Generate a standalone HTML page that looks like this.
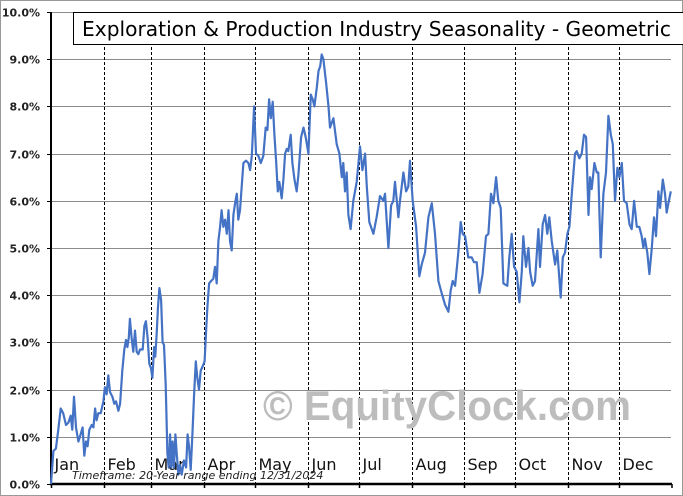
<!DOCTYPE html>
<html><head><meta charset="utf-8"><style>
html,body{margin:0;padding:0;background:#fff}
svg{display:block}
</style></head><body>
<svg id="chart" width="683" height="496" viewBox="0 0 683 496" xmlns="http://www.w3.org/2000/svg" font-family="'DejaVu Sans','Liberation Sans',sans-serif">
<rect x="0.5" y="0.5" width="682" height="495" fill="#fff" stroke="#999"/>
<g id="grid"></g>
<g id="months"></g>
<text x="263" y="420" font-size="42" font-weight="bold" fill="#bdbdbd" font-family="'Liberation Sans',sans-serif" textLength="368" lengthAdjust="spacingAndGlyphs">© EquityClock.com</text>
<g id="yaxis"></g>
<g id="xaxis"></g>
<path id="series" fill="none" stroke="#4472c4" stroke-width="2.2" stroke-linejoin="round"/>
<text x="72" y="479" font-size="11" font-style="italic" fill="#222">Timeframe: 20-Year range ending 12/31/2024</text>
<g>
<rect x="73.5" y="12.5" width="620" height="32" fill="#fff" stroke="#000"/>
<text x="82" y="36" font-size="20" fill="#000" textLength="589" lengthAdjust="spacingAndGlyphs">Exploration &amp; Production Industry Seasonality - Geometric</text>
</g>
</svg>
<script>
const yTicks = [0,1,2,3,4,5,6,7,8,9,10];
const monthLabels = ["Jan","Feb","Mar","Apr","May","Jun","Jul","Aug","Sep","Oct","Nov","Dec"];
const monthStarts = [0,31,59,90,120,151,181,212,243,273,304,334];
const days = [0,1.4,2.9,4.3,5.7,7.2,8.8,10.2,11.6,12.5,13.5,14.7,16.1,17.4,18.6,19.6,20.6,21.5,22.5,23.9,24.9,25.9,26.8,27.8,29.2,30.8,31.7,32.7,33.7,34.7,36.1,37.2,38.2,39.6,40.6,41.9,43.1,44.1,44.9,45.7,46.4,47.4,48.4,49.4,50.4,51.3,52.3,53.9,54.9,55.8,56.8,57.8,58.8,59.6,60.6,61.3,62.1,62.9,63.7,64.7,65.6,66.4,67.4,68.4,69.2,70,70.7,71.5,72.3,73.1,73.9,74.9,75.8,76.8,78.2,79.4,80.3,81.1,82.1,83.1,84.1,85.1,86,87,88,89.2,90.3,91.1,91.9,92.9,94.1,95.4,96.4,97.4,98.4,99.4,100.3,101.3,102.3,103.3,104.3,105.2,106.2,107.2,108.2,109.2,110.1,111.1,112.1,113.1,114.6,116,117,118,119.4,120.5,121.9,123.3,124.8,126.2,127.2,128.2,129.2,130.3,131.3,132.3,133.3,134.2,135.6,136.6,137.6,138.6,139.5,140.9,141.9,143.1,144.4,145.4,147,148.4,149.7,151.3,152.7,153.8,154.8,156.2,157.2,158.2,159.1,160.1,161.7,163.1,164,
166,167.9,169.5,170.9,171.8,172.8,173.8,174.8,176.1,177.7,179.7,181.6,183,184.6,185.6,187.1,189.5,191.4,193.4,195.4,196.3,198.3,199.9,201.2,202.2,204.2,205.1,207.1,208.7,210,211,212.6,214.6,216.5,217.9,219.8,221.8,223.8,225.7,227.7,229.6,231.6,233.6,234.9,236.1,237.5,239.4,240.8,242,243.4,245.3,247.3,248.6,250.2,251.8,253.7,255.7,257.1,258.6,260,261.6,262.9,264.3,265.9,268.2,269.4,270.8,272.2,273.7,275.3,276.7,277.6,279.2,280.6,281.6,283.1,284.5,286.5,287.4,289,290.4,291.7,292.9,294.3,296.3,297.6,299.6,300.8,302.1,303.5,304.7,306.1,308,309,310.6,311.9,313.3,314.5,315.9,316.8,317.8,319.4,320.8,321.7,323.1,324.7,326.2,327.6,329,330.2,331.5,332.9,334.1,335.5,336.8,338.4,340,341.3,342.7,344.3,345.8,347.2,348.2,349.1,350.5,351.7,353.1,354.4,355.6,357,358,359.6,360.9,361.9,362.9,364.3];
const values = [0,0.7,0.75,1.15,1.6,1.5,1.25,1.3,1.45,1.15,1.85,1.2,0.9,1.05,1.2,0.6,0.9,0.8,1.15,1.25,1.2,1.6,1.35,1.5,1.5,1.75,2.05,1.9,2.3,1.95,1.85,1.7,1.75,1.55,1.7,2.4,2.85,3.05,2.9,3.1,3.5,3.1,2.8,3.25,2.8,2.75,2.85,2.85,3.35,3.45,3.1,2.55,2.45,2.25,2.9,2.7,3.2,3.75,4.15,3.9,3.0,2.95,2.1,0.65,0.35,1.05,0.35,0.9,0.35,1.05,0.65,0.2,0.4,0.2,0.5,0.35,1.05,0.8,0.3,1.05,1.9,2.6,2.25,2.0,2.4,2.5,2.6,3.2,3.75,4.25,4.3,4.35,4.6,4.25,5.15,5.45,5.8,5.45,5.6,5.3,5.8,5.15,4.95,5.7,5.95,6.15,5.6,5.8,6.3,6.8,6.85,6.8,6.65,6.95,8.0,7.0,6.95,6.8,6.95,7.55,7.5,8.15,7.75,8.1,7.4,6.85,6.2,6.4,6.05,6.45,7.0,7.1,7.05,7.4,6.8,6.45,6.2,6.55,7.35,7.55,7.35,7.0,8.25,8.15,8.0,8.4,8.75,8.85,9.1,9.0,8.5,8.0,7.55,
7.75,7.2,7.0,6.5,6.8,6.2,6.6,5.7,5.4,6.0,6.4,7.15,6.65,7.0,6.3,5.55,5.3,5.65,6.1,6.0,6.15,5.0,5.9,6.0,6.4,5.65,6.0,6.6,6.2,6.3,6.85,6.0,5.45,4.4,4.65,4.9,5.65,5.95,5.3,4.3,4.05,3.8,3.65,4.1,4.3,4.2,4.9,5.55,5.3,5.25,4.8,4.8,4.7,4.7,4.05,4.45,5.25,5.3,6.15,5.95,6.5,6.0,5.85,4.25,4.2,4.8,5.3,4.6,4.5,3.85,4.5,5.25,4.6,5.0,4.5,4.2,4.3,5.4,4.6,5.5,5.7,5.3,5.65,5.15,4.65,4.95,3.95,4.8,4.9,5.3,5.45,6.15,7.0,7.05,6.9,7.0,7.4,7.35,5.7,6.5,6.25,6.8,6.6,6.6,4.8,6.15,6.6,7.8,7.4,7.2,6.0,6.7,6.5,6.8,6.0,5.95,5.5,5.4,6.0,5.45,5.45,5.25,5.0,5.2,4.9,4.45,5.0,5.65,5.25,6.2,5.85,6.45,6.15,5.75,5.95,6.2];

const X0=51, X1=672, Y0=484, Y1=12, YMAX=10;
const xs = d => X0 + d/365*(X1-X0);
const ys = v => Y0 - v/YMAX*(Y0-Y1);
const NS="http://www.w3.org/2000/svg";
function mk(tag, attrs, parent){const e=document.createElementNS(NS,tag);for(const k in attrs)e.setAttribute(k,attrs[k]);parent.appendChild(e);return e;}

const grid=document.getElementById('grid'), yaxis=document.getElementById('yaxis');
yTicks.forEach(t=>{
  const y=Math.round(ys(t))+0.5;
  if(t>0){const l=mk('line',{x1:X0,x2:X1-1,y1:y,y2:y,stroke:'#8c8c8c','stroke-width':1},grid);
  
  }
  const tl=mk('line',{x1:X0-4,x2:X0,y1:y,y2:y,stroke:'#000'},yaxis);
  
  
  const tx=mk('text',{x:X0-11,y:y+4,'text-anchor':'end','font-size':11,'font-weight':'bold',fill:'#222'},yaxis);
  tx.textContent=t.toFixed(1)+'%';
  
  
});
mk('line',{x1:X0,x2:X0,y1:Y1,y2:Y0+1,stroke:'#000','stroke-width':2},yaxis);

const months=document.getElementById('months'), xaxis=document.getElementById('xaxis');
monthStarts.forEach((d,i)=>{
  const x=Math.round(xs(d))+0.5;
  if(i>0){const l=mk('line',{x1:x,x2:x,y1:Y1,y2:Y0,stroke:'#000','stroke-dasharray':'3,2','stroke-width':1},months);
  
  }
  const tk=mk('line',{x1:x,x2:x,y1:Y0,y2:Y0+4,stroke:'#000','stroke-width':1.5},xaxis);
  
  
  const tx=mk('text',{x:x+3,y:470,'font-size':16,fill:'#111'},xaxis);
  tx.textContent=monthLabels[i];
  
  
});
const tkEnd=mk('line',{x1:X1,x2:X1,y1:Y0,y2:Y0+4,stroke:'#000','stroke-width':1.5},xaxis);


mk('line',{x1:X0-1,x2:X1,y1:Y0,y2:Y0,stroke:'#000','stroke-width':2.5},xaxis);

document.getElementById('series').setAttribute('d',
  days.map((d,i)=>(i?'L':'M')+xs(d).toFixed(1)+','+ys(values[i]).toFixed(1)).join(''));
</script>
</body></html>
